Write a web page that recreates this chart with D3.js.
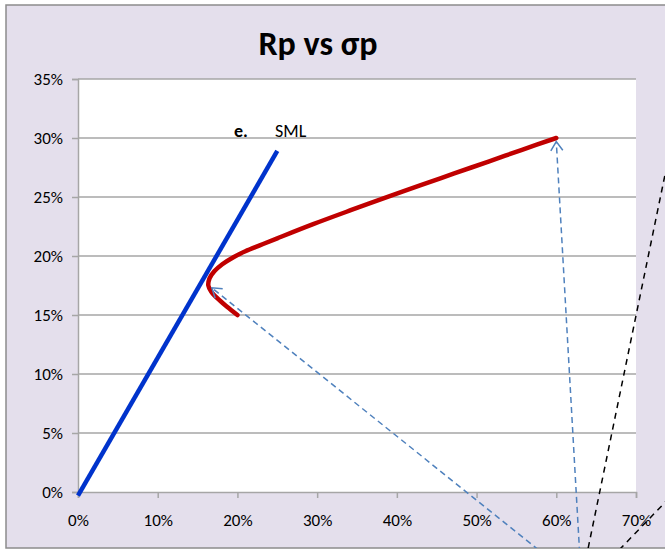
<!DOCTYPE html>
<html>
<head>
<meta charset="utf-8">
<script src="https://cdn.jsdelivr.net/npm/d3@7"></script>
<style>
  body { margin: 0; background: #fff; }
  svg { display: block; }
  text { font-family: Carlito, Calibri, "Liberation Sans", sans-serif; fill: #000; }
</style>
</head>
<body>
<svg></svg>
<script>
let width = 665
let height = 550

// efficient frontier (sigma, return)
let frontierSigma = [0.200, 0.187, 0.175, 0.167, 0.1635, 0.165, 0.171, 0.181, 0.195, 0.210, 0.228, 0.250, 0.295, 0.343, 0.384, 0.430, 0.472, 0.515, 0.557, 0.600]
let frontierReturn = [0.150, 0.157, 0.164, 0.170, 0.175, 0.181, 0.187, 0.193, 0.199, 0.204, 0.209, 0.215, 0.227, 0.239, 0.249, 0.260, 0.270, 0.280, 0.290, 0.300]

// SML line
let smlSigma = [0, 0.25]
let smlReturn = [-0.003, 0.289]

// dashed arrows (start -> tip)
let arrowSigma = [[0.656, 0.168], [0.63, 0.600]]
let arrowReturn = [[-0.0915, 0.173], [-0.060, 0.297]]

// black dashed lines
let dashSigma = [[0.640, 0.755], [0.679, 0.779]]
let dashReturn = [[-0.0475, 0.33], [-0.049, 0.021]]

let xTicks = [0, 0.1, 0.2, 0.3, 0.4, 0.5, 0.6, 0.7]
let yTicks = [0, 0.05, 0.1, 0.15, 0.2, 0.25, 0.3, 0.35]

let svg = d3.select('svg').attr('width', width).attr('height', height)

let xScale = d3.scaleLinear().domain([0, 0.7]).range([78, 636])
let yScale = d3.scaleLinear().domain([0, 0.35]).range([492, 79])

// chart area
svg.append('rect')
   .attr('x', 6).attr('y', 5)
   .attr('width', width + 10).attr('height', 543)
   .attr('fill', '#e4dfec')
   .attr('stroke', '#8c8c8c')
   .attr('stroke-width', 1.5)

svg.append('clipPath').attr('id', 'area')
   .append('rect').attr('x', 6).attr('y', 5).attr('width', width).attr('height', 543)

// plot area
svg.append('rect')
   .attr('x', xScale(0)).attr('y', yScale(0.35))
   .attr('width', xScale(0.7) - xScale(0))
   .attr('height', yScale(0) - yScale(0.35))
   .attr('fill', '#fff')

// gridlines
svg.append('g').selectAll('line')
   .data(yTicks.slice(1))
   .enter().append('line')
   .attr('x1', xScale(0)).attr('x2', xScale(0.7))
   .attr('y1', d => yScale(d)).attr('y2', d => yScale(d))
   .attr('stroke', '#a6a6a6').attr('stroke-width', 1.5)

let xAxis = d3.axisBottom(xScale).tickValues(xTicks).tickFormat(d3.format('.0%')).tickSize(6).tickPadding(16)
let gx = svg.append('g').attr('transform', 'translate(0,' + yScale(0) + ')').call(xAxis)

let yAxis = d3.axisLeft(yScale).tickValues(yTicks).tickFormat(d3.format('.0%')).tickSize(6).tickPadding(9)
let gy = svg.append('g').attr('transform', 'translate(' + xScale(0) + ',0)').call(yAxis)

for (let g of [gx, gy]) {
  g.select('.domain').attr('stroke', '#a6a6a6').attr('stroke-width', 1.5)
  g.selectAll('.tick line').attr('stroke', '#a6a6a6').attr('stroke-width', 1.5)
  g.selectAll('.tick text').style('font-size', '17px').attr('fill', '#000')
}
gy.selectAll('.tick text').attr('dy', '0.35em')

// title
svg.append('text')
   .attr('x', 318).attr('y', 55)
   .attr('text-anchor', 'middle')
   .style('font-size', '34px').style('font-weight', 'bold')
   .text('Rp vs σp')

svg.append('text').attr('x', 234).attr('y', 137)
   .style('font-size', '18px').style('font-weight', 'bold').text('e.')
svg.append('text').attr('x', 275).attr('y', 137)
   .style('font-size', '18px').text('SML')

let line = d3.line().x(d => xScale(d[0])).y(d => yScale(d[1]))

// SML
svg.append('path')
   .datum(d3.zip(smlSigma, smlReturn))
   .attr('d', line)
   .attr('fill', 'none').attr('stroke', '#0033cc').attr('stroke-width', 4.5)

// frontier
svg.append('path')
   .datum(d3.zip(frontierSigma, frontierReturn))
   .attr('d', line.curve(d3.curveCatmullRom.alpha(0.5)))
   .attr('fill', 'none').attr('stroke', '#c00000').attr('stroke-width', 4.5)
   .attr('stroke-linecap', 'round')

line.curve(d3.curveLinear)

svg.append('defs').append('marker')
   .attr('id', 'open')
   .attr('markerUnits', 'userSpaceOnUse')
   .attr('markerWidth', 20).attr('markerHeight', 20)
   .attr('viewBox', '-12 -10 20 20')
   .attr('refX', 0).attr('refY', 0)
   .attr('orient', 'auto')
   .append('path')
   .attr('d', 'M-9,-6 L0,0 L-9,6')
   .attr('fill', 'none').attr('stroke', '#4f81bd').attr('stroke-width', 1.5)

let ann = svg.append('g').attr('clip-path', 'url(#area)')

arrowSigma.forEach((s, i) => {
  ann.append('path')
     .datum(d3.zip(s, arrowReturn[i]))
     .attr('d', line)
     .attr('fill', 'none').attr('stroke', '#4f81bd').attr('stroke-width', 1.5)
     .attr('stroke-dasharray', '6,4')
     .attr('marker-end', 'url(#open)')
})

dashSigma.forEach((s, i) => {
  ann.append('path')
     .datum(d3.zip(s, dashReturn[i]))
     .attr('d', line)
     .attr('fill', 'none').attr('stroke', '#000').attr('stroke-width', 1.5)
     .attr('stroke-dasharray', '6,5')
})
</script>
</body>
</html>
